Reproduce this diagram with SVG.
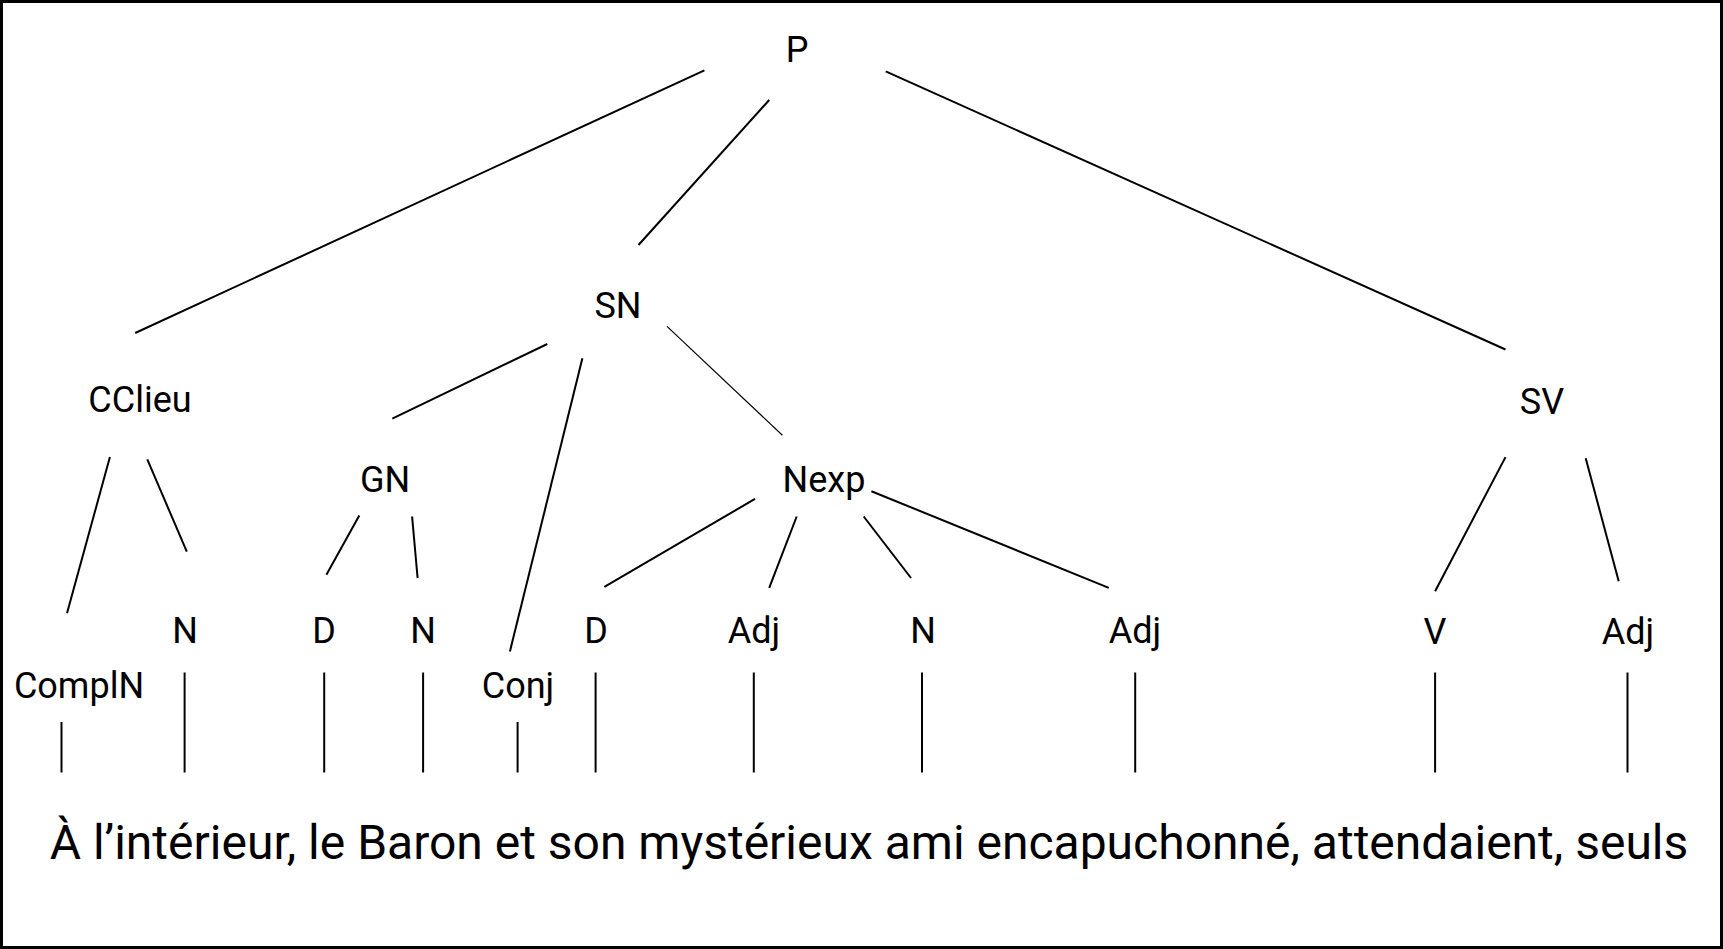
<svg xmlns="http://www.w3.org/2000/svg" width="1723" height="949" viewBox="0 0 1723 949">
<style>
text{font-family:Roboto,"Liberation Sans",sans-serif;fill:#000;text-anchor:middle}
.l{font-size:36px}
.s{font-size:48px}
line{stroke:#000;stroke-width:2;stroke-linecap:butt}
.thin{stroke-width:1.2}
</style>
<rect x="0" y="0" width="1723" height="949" fill="#fff"/>
<rect x="1.5" y="1.5" width="1720" height="946" fill="none" stroke="#000" stroke-width="3"/>
<g id="connectors">
<line x1="704.4" y1="70.3" x2="135.2" y2="333"/>
<line x1="769.2" y1="100" x2="638.5" y2="245"/>
<line x1="885.7" y1="71.4" x2="1505.5" y2="349.5"/>
<line x1="547.3" y1="344" x2="392.3" y2="418.7"/>
<line x1="582.4" y1="358.2" x2="509.9" y2="651.6"/>
<line class="thin" x1="667" y1="326.4" x2="782.4" y2="435.2"/>
<line x1="109.9" y1="457.1" x2="67" y2="613.2"/>
<line x1="147.3" y1="459.3" x2="186.8" y2="551.7"/>
<line x1="359.3" y1="515.4" x2="326.4" y2="574.7"/>
<line x1="412.1" y1="516.5" x2="417.6" y2="578"/>
<line x1="755" y1="498.9" x2="604.4" y2="586.8"/>
<line x1="796.7" y1="516.5" x2="769.2" y2="587.9"/>
<line x1="863.7" y1="516.5" x2="911" y2="578"/>
<line x1="871.4" y1="491.2" x2="1108.8" y2="587.9"/>
<line x1="1505.5" y1="457.1" x2="1435.1" y2="591.2"/>
<line x1="1585.7" y1="458.2" x2="1618.7" y2="581.3"/>
<line x1="61.5" y1="722" x2="61.5" y2="772.5"/>
<line x1="184.6" y1="672.5" x2="184.6" y2="772.5"/>
<line x1="324.2" y1="672.5" x2="324.2" y2="772.5"/>
<line x1="423.1" y1="672.5" x2="423.1" y2="772.5"/>
<line x1="517.6" y1="722" x2="517.6" y2="772.5"/>
<line x1="595.6" y1="672.5" x2="595.6" y2="772.5"/>
<line x1="753.8" y1="672.5" x2="753.8" y2="772.5"/>
<line x1="922" y1="672.5" x2="922" y2="772.5"/>
<line x1="1135.2" y1="672.5" x2="1135.2" y2="772.5"/>
<line x1="1435.1" y1="672.5" x2="1435.1" y2="772.5"/>
<line x1="1627.5" y1="672.5" x2="1627.5" y2="772.5"/>
</g>
<g id="P"><text class="l" x="797" y="62">P</text></g>
<g id="SN"><text class="l" x="618" y="318">SN</text></g>
<g id="SV"><text class="l" x="1542" y="414">SV</text></g>
<g id="CClieu"><text class="l" x="140" y="412">CClieu</text></g>
<g id="GN"><text class="l" x="385" y="492">GN</text></g>
<g id="Nexp"><text class="l" x="824" y="492">Nexp</text></g>
<g id="N1"><text class="l" x="185" y="643">N</text></g>
<g id="D1"><text class="l" x="324" y="643">D</text></g>
<g id="N2"><text class="l" x="423" y="643">N</text></g>
<g id="D2"><text class="l" x="596" y="643">D</text></g>
<g id="Adj1"><text class="l" x="754" y="643">Adj</text></g>
<g id="N3"><text class="l" x="923" y="643">N</text></g>
<g id="Adj2"><text class="l" x="1135" y="643">Adj</text></g>
<g id="V"><text class="l" x="1435" y="644">V</text></g>
<g id="Adj3"><text class="l" x="1628" y="644">Adj</text></g>
<g id="ComplN"><text class="l" x="79" y="698">ComplN</text></g>
<g id="Conj"><text class="l" x="518" y="698">Conj</text></g>
<g id="sentence"><text class="s" x="869" y="859">À l’intérieur, le Baron et son mystérieux ami encapuchonné, attendaient, seuls</text></g>
</svg>
